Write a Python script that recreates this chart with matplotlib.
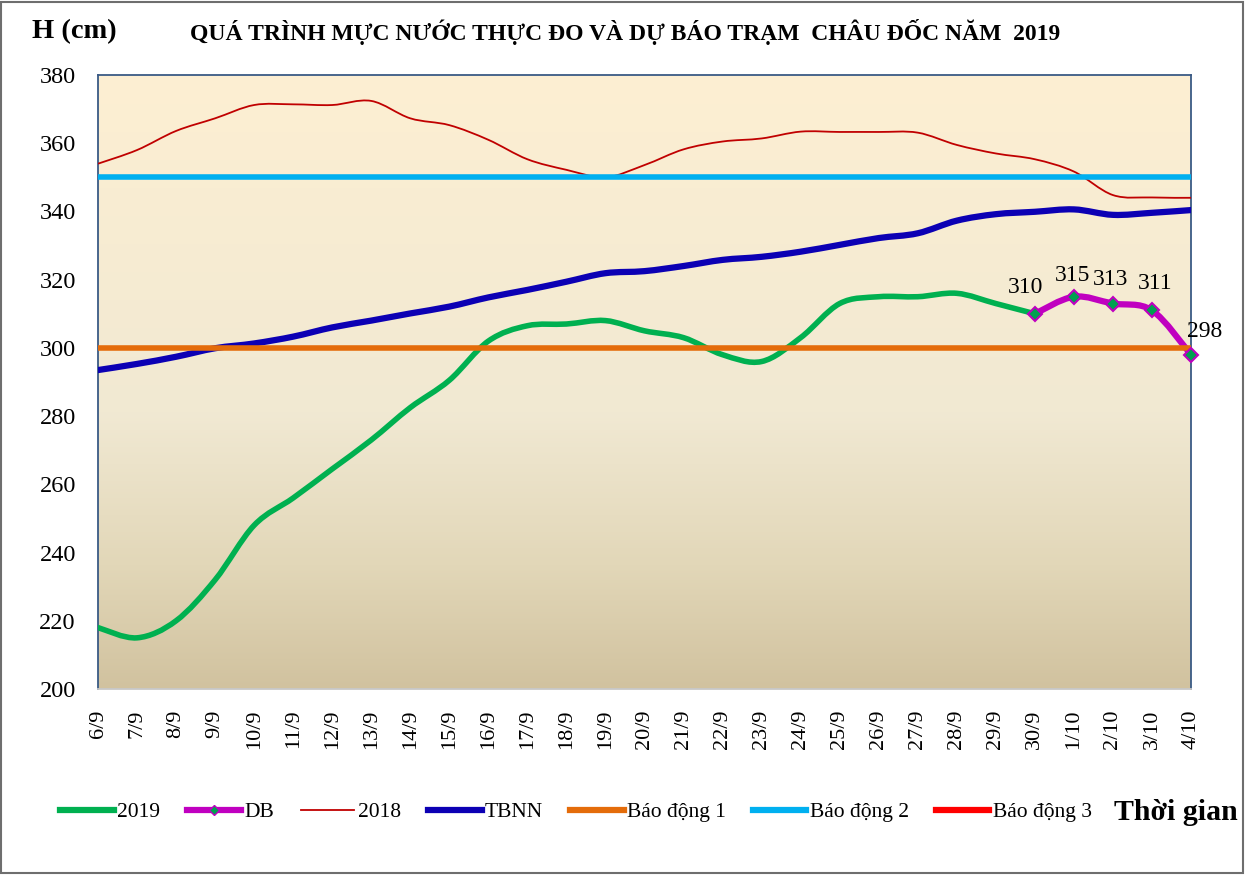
import numpy as np
import matplotlib
matplotlib.use("Agg")
import matplotlib.pyplot as plt
from matplotlib.path import Path
from matplotlib.patches import PathPatch, Rectangle
from matplotlib.lines import Line2D
from matplotlib.colors import LinearSegmentedColormap

plt.rcParams['font.family'] = ['Liberation Serif', 'DejaVu Serif']

# ---------------- data ----------------
dates = ["6/9", "7/9", "8/9", "9/9", "10/9", "11/9", "12/9", "13/9", "14/9", "15/9",
         "16/9", "17/9", "18/9", "19/9", "20/9", "21/9", "22/9", "23/9", "24/9", "25/9",
         "26/9", "27/9", "28/9", "29/9", "30/9", "1/10", "2/10", "3/10", "4/10"]

h2019 = [218, 215, 220, 232, 248, 256, 264.5, 273, 282.5, 290.5,
         302, 306.5, 307, 308, 305, 303, 298, 296, 303, 313,
         315, 315, 316, 313, 310]

db_dates = ["30/9", "1/10", "2/10", "3/10", "4/10"]
db = [310, 315, 313, 311, 298]

h2018 = [354, 358, 363.6, 367.3, 371.2, 371.4, 371.2, 372.4, 367.3, 365.3,
         361, 355.3, 352.2, 350, 353.6, 358.2, 360.5, 361.4, 363.4, 363.3,
         363.3, 363.1, 359.5, 357, 355.3, 351.7, 344.8, 344.1, 344]

tbnn = [293.5, 295.3, 297.4, 299.9, 301.3, 303.3, 306, 308, 310.1, 312.1,
        314.8, 317, 319.4, 321.9, 322.5, 324, 325.8, 326.7, 328.2, 330.2,
        332.2, 333.6, 337.3, 339.2, 339.9, 340.6, 339, 339.6, 340.4]

bd1 = 300
bd2 = 350
bd3 = 400

yticks = [200, 220, 240, 260, 280, 300, 320, 340, 360, 380]

# ---------------- helpers ----------------
def smooth_path(xs, ys):
    """Excel-like smoothed line as cubic Bezier path through the data points."""
    xs = list(xs); ys = list(ys)
    n = len(xs)
    verts = [(xs[0], ys[0])]
    codes = [Path.MOVETO]
    for i in range(n - 1):
        x0, y0 = (xs[i - 1], ys[i - 1]) if i > 0 else (xs[i], ys[i])
        x1, y1 = xs[i], ys[i]
        x2, y2 = xs[i + 1], ys[i + 1]
        x3, y3 = (xs[i + 2], ys[i + 2]) if i + 2 < n else (xs[i + 1], ys[i + 1])
        c1 = (x1 + (x2 - x0) / 6.0, y1 + (y2 - y0) / 6.0)
        c2 = (x2 - (x3 - x1) / 6.0, y2 - (y3 - y1) / 6.0)
        verts += [c1, c2, (x2, y2)]
        codes += [Path.CURVE4] * 3
    return Path(verts, codes)

# ---------------- figure ----------------
fig = plt.figure(figsize=(12.45, 8.75), dpi=100)
ax = fig.add_axes([98 / 1245, 1 - 689 / 875, (1191 - 98) / 1245, (689 - 75) / 875])

# gradient background (light cream at top, tan at bottom)
grad = np.linspace(0, 1, 256)[:, None]
cmap = LinearSegmentedColormap.from_list(
    "bg", [(0.0, "#D1C29F"), (0.2, "#E2D7B8"), (0.45, "#F1E9D3"), (1.0, "#FDEFD2")])
ax.imshow(grad, aspect='auto', cmap=cmap, origin='lower',
          extent=[0, len(dates) - 1, 200, 380], zorder=0, interpolation='bicubic')

x_all = np.arange(len(dates))
x2019 = x_all[:len(h2019)]
xdb = np.array([dates.index(d) for d in db_dates])

c2019 = "#00B050"
cdb = "#C000C0"
c2018 = "#C00000"
ctb = "#0C00B4"
cbd1 = "#E46C0A"
cbd2 = "#00B0F0"
cbd3 = "#FF0000"

# 2019 measured
ax.add_patch(PathPatch(smooth_path(x2019, h2019), fill=False, edgecolor=c2019,
                       lw=4.0, capstyle='round', joinstyle='round', zorder=3))
# DB forecast
ax.add_patch(PathPatch(smooth_path(xdb, db), fill=False, edgecolor=cdb,
                       lw=4.5, capstyle='round', joinstyle='round', zorder=3))
ax.plot(xdb, db, linestyle='none', marker='D', markersize=7.5,
        markerfacecolor="#00A050", markeredgecolor=cdb, markeredgewidth=1.5, zorder=8,
        clip_on=False)
# 2018
ax.add_patch(PathPatch(smooth_path(x_all, h2018), fill=False, edgecolor=c2018,
                       lw=1.3, zorder=4))
# TBNN
ax.add_patch(PathPatch(smooth_path(x_all, tbnn), fill=False, edgecolor=ctb,
                       lw=4.5, capstyle='round', zorder=5))
# alert levels
ax.plot([0, len(dates) - 1], [bd1, bd1], color=cbd1, lw=4.0, zorder=6, solid_capstyle='butt')
ax.plot([0, len(dates) - 1], [bd2, bd2], color=cbd2, lw=4.0, zorder=6, solid_capstyle='butt')
ax.plot([0, len(dates) - 1], [bd3, bd3], color=cbd3, lw=4.0, zorder=6, solid_capstyle='butt')

# data labels for forecast
label_offsets = [(-7, 11.5), (-1, 8), (-1.5, 9.5), (2, 11.5), (10, 9.5)]
for xi, v, off in zip(xdb, db, label_offsets):
    ax.annotate(f"{v:g}", (xi, v), xytext=off, textcoords='offset points',
                ha='center', va='bottom', fontsize=17, color='black', zorder=9,
                annotation_clip=False)

ax.set_xlim(0, len(dates) - 1)
ax.set_ylim(200, 380)
ax.set_yticks(yticks)
ax.set_yticklabels([str(t) for t in yticks], fontsize=17.5)
ax.set_xticks(x_all)
ax.set_xticklabels(dates, rotation=90, fontsize=16)
ax.tick_params(axis='both', length=0)
ax.tick_params(axis='y', pad=16)
ax.tick_params(axis='x', pad=15)
for s in ['left', 'top', 'right']:
    ax.spines[s].set_color('#3A5A85')
    ax.spines[s].set_linewidth(1.3)
ax.spines['bottom'].set_color('#C8C8C8')
ax.spines['bottom'].set_linewidth(1.3)

# titles
fig.text(32 / 1245, 1 - 32 / 875, "H (cm)", fontsize=20.5, fontweight='bold',
         ha='left', va='center')
fig.text(625 / 1245, 1 - 32 / 875,
         "QUÁ TRÌNH MỰC NƯỚC THỰC ĐO VÀ DỰ BÁO TRẠM  CHÂU ĐỐC NĂM  2019",
         fontsize=17, fontweight='bold', ha='center', va='center')
fig.text(1238 / 1245, 1 - 812 / 875, "Thời gian", fontsize=21.5, fontweight='bold',
         ha='right', va='center')

# legend
handles = [
    Line2D([], [], color=c2019, lw=4.5),
    Line2D([], [], color=cdb, lw=4.5, marker='D', markersize=5,
           markerfacecolor="#00A050", markeredgecolor=cdb),
    Line2D([], [], color=c2018, lw=1.3),
    Line2D([], [], color=ctb, lw=4.5),
    Line2D([], [], color=cbd1, lw=4.5),
    Line2D([], [], color=cbd2, lw=4.5),
    Line2D([], [], color=cbd3, lw=4.5),
]
labels = ["2019", "DB", "2018", "TBNN", "Báo động 1", "Báo động 2", "Báo động 3"]
fig.legend(handles, labels, loc='center left', bbox_to_anchor=(60 / 1245, 1 - 812 / 875),
           ncol=7, frameon=False, fontsize=15.5, handlelength=2.5, handletextpad=0.15,
           columnspacing=1.25, borderpad=0, borderaxespad=0)

# chart border
fig.patches.append(Rectangle((0.001, 0.002), 0.997, 0.996, transform=fig.transFigure,
                             fill=False, edgecolor='#6E6E6E', lw=1.5))

fig.savefig("out.png", dpi=100, facecolor='white')
